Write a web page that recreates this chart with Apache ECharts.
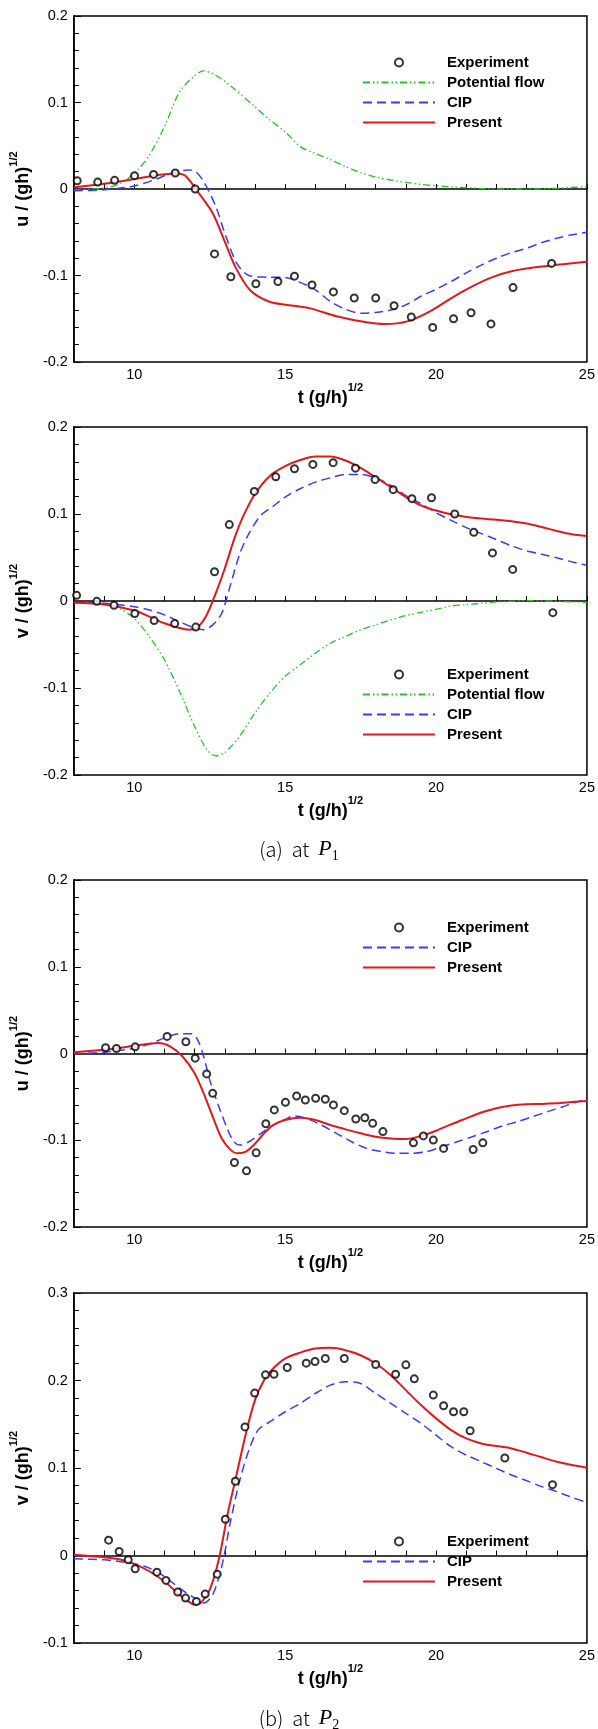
<!DOCTYPE html>
<html>
<head>
<meta charset="utf-8">
<title>u, v at P1 and P2</title>
<script src="https://cdn.jsdelivr.net/npm/echarts@6/dist/echarts.min.js"></script>
<style>
  html, body { margin: 0; padding: 0; background: #fff; }
  #main { width: 598px; height: 1729px; }
</style>
</head>
<body>
<div id="main"></div>
<script>
// ---- data: [t (g/h)^1/2, value] ----

// (a) P1, u
var p1uExperiment = [[8.11, 0.0096], [8.79, 0.008], [9.35, 0.010], [10.01, 0.0154], [10.64, 0.0169], [11.36, 0.0185],
  [12.02, 0.0], [12.66, -0.075], [13.2, -0.1015], [14.03, -0.1096], [14.76, -0.107], [15.31, -0.1008], [15.89, -0.111],
  [16.6, -0.119], [17.29, -0.126], [18.0, -0.126], [18.61, -0.135], [19.18, -0.148], [19.89, -0.160], [20.58, -0.150],
  [21.16, -0.143], [21.82, -0.156], [22.55, -0.114], [23.83, -0.086]]
var p1uPotential = [[8, -0.001], [9, 0.001], [9.5, 0.006], [10, 0.018], [10.5, 0.039], [11, 0.072], [11.5, 0.112],
  [12, 0.131], [12.3, 0.1365], [12.7, 0.1315], [13.2, 0.119], [14, 0.095], [14.5, 0.0796], [15, 0.066], [15.5, 0.049],
  [16, 0.041], [16.5, 0.034], [17, 0.026], [17.5, 0.019], [18, 0.014], [18.5, 0.0104], [19, 0.0077], [19.5, 0.0054],
  [20, 0.0038], [21, 0.0015], [22, 0.0], [23, 0.0], [24, 0.0008], [25, 0.003]]
var p1uCIP = [[8, -0.002], [9, -0.001], [10, 0.0035], [10.7, 0.011], [11.2, 0.018], [11.8, 0.022], [12.0, 0.021],
  [12.3, 0.0085], [12.7, -0.02], [13.0, -0.051], [13.4, -0.086], [13.8, -0.1], [14.4, -0.102], [15, -0.1023],
  [15.5, -0.108], [16, -0.1165], [16.5, -0.13], [17, -0.139], [17.5, -0.1435], [18, -0.1427], [18.5, -0.14],
  [19, -0.134], [19.5, -0.124], [20, -0.116], [20.5, -0.107], [21, -0.097], [21.5, -0.088], [22, -0.08],
  [22.5, -0.0735], [23, -0.0685], [23.5, -0.062], [24, -0.057], [24.5, -0.053], [25, -0.050]]
var p1uPresent = [[8, 0.002], [9, 0.006], [10, 0.0115], [10.6, 0.015], [11, 0.017], [11.4, 0.018], [11.7, 0.015],
  [12.1, -0.003], [12.6, -0.028], [12.98, -0.059], [13.35, -0.09], [13.84, -0.117], [14.46, -0.13], [15.08, -0.134],
  [15.83, -0.138], [16.7, -0.147], [17.69, -0.154], [18.3, -0.156], [19.05, -0.153], [19.8, -0.1415], [20.8, -0.12],
  [21.78, -0.103], [22.5, -0.095], [23.5, -0.0896], [25, -0.084]]

// (a) P1, v
var p1vExperiment = [[8.09, 0.0065], [8.76, -0.0004], [9.33, -0.005], [10.02, -0.0145], [10.66, -0.0225],
  [11.34, -0.026], [12.04, -0.030], [12.66, 0.0336], [13.15, 0.0878], [13.98, 0.126], [14.69, 0.1427], [15.31, 0.152],
  [15.92, 0.157], [16.59, 0.159], [17.33, 0.1527], [17.98, 0.1397], [18.58, 0.128], [19.2, 0.1176], [19.85, 0.1187],
  [20.62, 0.1], [21.25, 0.079], [21.87, 0.0553], [22.54, 0.0363], [23.87, -0.0134]]
var p1vPotential = [[8, -0.0015], [9, -0.0034], [9.5, -0.0084], [10, -0.02], [10.5, -0.041], [11, -0.0676],
  [11.5, -0.104], [12, -0.144], [12.4, -0.1706], [12.7, -0.178], [13, -0.1744], [13.5, -0.155], [14, -0.1286],
  [14.5, -0.1057], [15, -0.0866], [15.5, -0.0733], [16, -0.06], [16.5, -0.0485], [17, -0.0408], [17.5, -0.0332],
  [18, -0.0275], [18.5, -0.0218], [19, -0.0168], [19.5, -0.013], [20, -0.0095], [20.5, -0.0057], [21, -0.0042],
  [21.5, -0.0027], [22, -0.0011], [22.5, -0.0004], [23, 0.0004], [24, -0.0004], [25, -0.0015]]
var p1vCIP = [[8, -0.0015], [9, -0.0027], [10, -0.0065], [10.5, -0.0103], [11, -0.016], [11.5, -0.0237], [12, -0.031],
  [12.3, -0.033], [12.6, -0.0275], [12.9, -0.014], [13.2, 0.02], [13.5, 0.0546], [13.8, 0.0775], [14.2, 0.0985],
  [14.6, 0.1088], [15, 0.1195], [15.5, 0.129], [16, 0.1366], [16.5, 0.1416], [17, 0.1454], [17.5, 0.1454],
  [18, 0.1416], [18.5, 0.1328], [19, 0.121], [19.5, 0.112], [20, 0.1015], [20.5, 0.0927], [21, 0.0844],
  [21.5, 0.0775], [22, 0.0706], [22.5, 0.0634], [23, 0.0576], [23.5, 0.0538], [24, 0.0496], [24.5, 0.045], [25, 0.041]]
var p1vPresent = [[8, -0.002], [9, -0.004], [10, -0.011], [10.5, -0.018], [11, -0.0256], [11.5, -0.031],
  [11.8, -0.033], [12.1, -0.030], [12.4, -0.016], [12.7, 0.0088], [13, 0.0374], [13.3, 0.07], [13.6, 0.0966],
  [14.0, 0.123], [14.5, 0.144], [15.0, 0.155], [15.5, 0.162], [16, 0.166], [16.5, 0.166], [17, 0.1615], [17.5, 0.153],
  [18, 0.142], [18.5, 0.131], [19, 0.1195], [19.5, 0.11], [20, 0.104], [20.5, 0.0996], [21, 0.0966], [21.5, 0.0947],
  [22, 0.0935], [22.5, 0.0916], [23, 0.089], [23.5, 0.085], [24, 0.0805], [24.5, 0.0767], [25, 0.0748]]

// (b) P2, u
var p2uExperiment = [[9.05, 0.0066], [9.41, 0.0058], [10.03, 0.0077], [11.09, 0.0197], [11.71, 0.0135],
  [12.02, -0.0054], [12.4, -0.0235], [12.6, -0.0459], [13.32, -0.1256], [13.72, -0.1353], [14.04, -0.1145],
  [14.36, -0.081], [14.64, -0.065], [15.01, -0.0563], [15.38, -0.049], [15.67, -0.0536], [16.01, -0.0516],
  [16.33, -0.0528], [16.6, -0.0593], [16.96, -0.0659], [17.34, -0.0755], [17.64, -0.074], [17.9, -0.0805],
  [18.24, -0.09], [19.25, -0.103], [19.58, -0.095], [19.91, -0.0998], [20.25, -0.1094], [21.23, -0.1106],
  [21.55, -0.103]]
var p2uCIP = [[8, -0.0004], [9, 0.0015], [10, 0.006], [10.5, 0.011], [11, 0.0177], [11.5, 0.0227], [11.9, 0.0227],
  [12.1, 0.0158], [12.3, -0.0035], [12.5, -0.0304], [12.8, -0.061], [13.1, -0.088], [13.3, -0.1017], [13.5, -0.1056],
  [13.8, -0.1017], [14.2, -0.092], [14.6, -0.0825], [15, -0.076], [15.3, -0.072], [15.7, -0.0748], [16.2, -0.0825],
  [16.7, -0.092], [17.2, -0.1017], [17.7, -0.1094], [18.2, -0.113], [18.7, -0.115], [19.2, -0.115], [19.7, -0.113],
  [20.2, -0.1075], [20.7, -0.1017], [21.2, -0.096], [21.7, -0.09], [22.2, -0.0836], [22.7, -0.0786], [23.2, -0.0728],
  [23.7, -0.067], [24.2, -0.0613], [24.6, -0.0566], [25, -0.0528]]
var p2uPresent = [[8, 0.0015], [9, 0.0042], [10, 0.0089], [10.5, 0.0112], [10.8, 0.012], [11.2, 0.008],
  [11.6, -0.0035], [12, -0.0227], [12.3, -0.046], [12.6, -0.0728], [12.9, -0.098], [13.2, -0.1114], [13.4, -0.115],
  [13.7, -0.113], [14, -0.104], [14.3, -0.092], [14.6, -0.0825], [15, -0.0767], [15.5, -0.074], [16, -0.0767],
  [16.5, -0.0825], [17, -0.0875], [17.5, -0.092], [18, -0.096], [18.5, -0.098], [19, -0.0986], [19.5, -0.095],
  [20, -0.089], [20.5, -0.0817], [21, -0.0748], [21.5, -0.068], [22, -0.063], [22.5, -0.06], [23, -0.0586],
  [23.5, -0.0582], [24, -0.0574], [24.5, -0.056], [25, -0.0547]]

// (b) P2, v
var p2vExperiment = [[9.15, 0.0175], [9.5, 0.0046], [9.8, -0.0049], [10.03, -0.0152], [10.75, -0.019],
  [11.05, -0.0285], [11.44, -0.0418], [11.7, -0.0487], [12.06, -0.0525], [12.35, -0.0441], [12.75, -0.0213],
  [13.02, 0.0414], [13.35, 0.0848], [13.67, 0.147], [13.99, 0.1856], [14.35, 0.2065], [14.63, 0.2072],
  [15.07, 0.2148], [15.7, 0.2198], [15.99, 0.2217], [16.33, 0.2251], [16.96, 0.2251], [18.0, 0.2183],
  [18.66, 0.2072], [19.0, 0.2179], [19.28, 0.2019], [19.91, 0.1833], [20.25, 0.1711], [20.58, 0.1643],
  [20.92, 0.1643], [21.13, 0.1426], [22.28, 0.1114], [23.86, 0.081]]
var p2vCIP = [[8, -0.0038], [9, -0.0049], [9.5, -0.0068], [10, -0.0095], [10.5, -0.0144], [11, -0.024],
  [11.5, -0.0373], [12, -0.0487], [12.3, -0.0544], [12.6, -0.0449], [12.9, -0.0125], [13.2, 0.0407], [13.5, 0.0863],
  [13.8, 0.1205], [14.1, 0.1433], [14.5, 0.1529], [15, 0.1643], [15.5, 0.1738], [16, 0.1852], [16.5, 0.1947],
  [17, 0.1985], [17.5, 0.1966], [18, 0.1852], [18.5, 0.1738], [19, 0.1624], [19.5, 0.151], [20, 0.1376],
  [20.5, 0.1243], [21, 0.1148], [21.5, 0.1072], [22, 0.0996], [22.5, 0.092], [23, 0.0856], [23.5, 0.0787],
  [24, 0.073], [24.5, 0.0665], [25, 0.0605]]
var p2vPresent = [[8, 0.0008], [9, -0.002], [9.5, -0.0042], [10, -0.0095], [10.5, -0.018], [11, -0.0297],
  [11.5, -0.0449], [11.8, -0.0525], [12.0, -0.0563], [12.2, -0.0544], [12.5, -0.0392], [12.8, -0.0049],
  [13.1, 0.0483], [13.4, 0.0939], [13.7, 0.1395], [14, 0.1776], [14.3, 0.2004], [14.6, 0.2137], [15, 0.2251],
  [15.5, 0.2319], [16, 0.2365], [16.5, 0.2373], [17, 0.2346], [17.5, 0.2289], [18, 0.2194], [18.5, 0.2061],
  [19, 0.189], [19.5, 0.1719], [20, 0.1567], [20.5, 0.1433], [21, 0.1338], [21.5, 0.1281], [22, 0.1251],
  [22.5, 0.1224], [23, 0.1175], [23.5, 0.1122], [24, 0.1072], [24.5, 0.1034], [25, 0.1004]]

// axis ranges
var tRange = [8, 25]
var uRange = [-0.2, 0.2]
var v2Range = [-0.1, 0.3]

var FONT = 'Liberation Sans, Arial, sans-serif'
var RED = '#e01a1a'
var BLUE = '#3a3aff'
var GREEN = '#22c422'

var myChart = echarts.init(document.getElementById('main'))

var panels = [
  { top: 16, height: 346, yName: 'u', yRange: uRange, legendTop: 53,
    exp: p1uExperiment, pot: p1uPotential, cip: p1uCIP, pre: p1uPresent },
  { top: 427, height: 348, yName: 'v', yRange: uRange, legendTop: 665,
    exp: p1vExperiment, pot: p1vPotential, cip: p1vCIP, pre: p1vPresent },
  { top: 880, height: 347, yName: 'u', yRange: uRange, legendTop: 918,
    exp: p2uExperiment, cip: p2uCIP, pre: p2uPresent },
  { top: 1293, height: 350, yName: 'v', yRange: v2Range, legendTop: 1532,
    exp: p2vExperiment, cip: p2vCIP, pre: p2vPresent }
]

var grid = []
var xAxis = []
var yAxis = []
var series = []
var legend = []

// line legend items: hide the little dot that echarts puts on line icons
function lineItem(name) {
  return { name: name, itemStyle: { opacity: 0 } }
}

panels.forEach(function (p, i) {
  grid.push({
    left: 63, right: 10, top: p.top, height: p.height,
    show: true, borderColor: '#000', borderWidth: 1.5, backgroundColor: 'transparent'
  })
  xAxis.push({
    type: 'value', gridIndex: i, min: tRange[0], max: tRange[1], interval: 1,
    name: '{a|t (g/h)}{b|1/2}', nameLocation: 'middle', nameGap: 15,
    nameTextStyle: {
      rich: {
        a: { fontFamily: FONT, fontWeight: 'bold', fontSize: 18, color: '#000', lineHeight: 24, verticalAlign: 'bottom' },
        b: { fontFamily: FONT, fontWeight: 'bold', fontSize: 11, color: '#000', lineHeight: 24, verticalAlign: 'top' }
      }
    },
    axisLine: { lineStyle: { color: '#000', width: 1.5 } },
    axisTick: { inside: true, length: 5, lineStyle: { color: '#000', width: 1 } },
    axisLabel: {
      color: '#000', fontFamily: FONT, fontSize: 14.5, margin: 5,
      formatter: function (v) { return v % 5 === 0 ? String(v) : '' }
    },
    splitLine: { show: false }
  })
  yAxis.push({
    type: 'value', gridIndex: i, min: p.yRange[0], max: p.yRange[1], interval: 0.1,
    name: '{a|' + p.yName + ' / (gh)}{b|1/2}', nameLocation: 'middle', nameGap: 30,
    nameTextStyle: {
      rich: {
        a: { fontFamily: FONT, fontWeight: 'bold', fontSize: 18, color: '#000', lineHeight: 24, verticalAlign: 'bottom' },
        b: { fontFamily: FONT, fontWeight: 'bold', fontSize: 11, color: '#000', lineHeight: 24, verticalAlign: 'top' }
      }
    },
    axisLine: { show: true, lineStyle: { color: '#000', width: 1.5 } },
    axisTick: { inside: true, length: 7, lineStyle: { color: '#000', width: 1 } },
    minorTick: { show: true, splitNumber: 5, length: 5, lineStyle: { color: '#000', width: 1 } },
    axisLabel: { color: '#000', fontFamily: FONT, fontSize: 14.5, margin: 6 },
    splitLine: { show: false }
  })

  var items = ['Experiment']
  if (p.pot) {
    items.push(lineItem('Potential flow'))
    series.push({
      name: 'Potential flow', type: 'line', xAxisIndex: i, yAxisIndex: i, data: p.pot,
      symbol: 'none', smooth: 0.3, color: GREEN,
      lineStyle: { color: GREEN, width: 1.3, type: [7, 3, 1.5, 2.5, 1.5, 3] }
    })
  }
  items.push(lineItem('CIP'), lineItem('Present'))
  series.push({
    name: 'CIP', type: 'line', xAxisIndex: i, yAxisIndex: i, data: p.cip,
    symbol: 'none', smooth: 0.3, color: BLUE,
    lineStyle: { color: BLUE, width: 1.5, type: [9, 5] }
  })
  series.push({
    name: 'Present', type: 'line', xAxisIndex: i, yAxisIndex: i, data: p.pre,
    symbol: 'none', smooth: 0.3, color: RED,
    lineStyle: { color: RED, width: 2 }
  })
  series.push({
    name: 'Experiment', type: 'scatter', xAxisIndex: i, yAxisIndex: i, data: p.exp,
    symbol: 'emptyCircle', symbolSize: 7, color: '#000', z: 5,
    itemStyle: { color: '#000', borderColor: '#000', borderWidth: 1.5 }
  })

  legend.push({
    data: items, orient: 'vertical', left: 362, top: p.legendTop + 1, padding: 0,
    itemWidth: 72, itemHeight: 8, itemGap: 3, selectedMode: false,
    textStyle: { fontFamily: FONT, fontWeight: 'bold', fontSize: 15, color: '#000', lineHeight: 17, padding: [0, 0, 0, 7] }
  })
})

var captionRich = {
  t: { fontFamily: 'Noto Sans CJK KR, Noto Sans, sans-serif', fontWeight: 300, fontSize: 20, color: '#000', lineHeight: 28 },
  p: { fontFamily: 'Liberation Serif, serif', fontStyle: 'italic', fontWeight: 'normal', fontSize: 22, color: '#000', lineHeight: 28 },
  s: { fontFamily: 'Liberation Serif, serif', fontWeight: 'normal', fontSize: 14, color: '#000', lineHeight: 28, verticalAlign: 'bottom' }
}

var option = {
  animation: false,
  backgroundColor: '#fff',
  title: [
    { text: '{t|(a)  at  }{p|P}{s|1}', left: 'center', top: 830, textStyle: { fontWeight: 'normal', rich: captionRich } },
    { text: '{t|(b)  at  }{p|P}{s|2}', left: 'center', top: 1699, textStyle: { fontWeight: 'normal', rich: captionRich } }
  ],
  grid: grid,
  xAxis: xAxis,
  yAxis: yAxis,
  legend: legend,
  series: series
}

myChart.setOption(option)
</script>
</body>
</html>
